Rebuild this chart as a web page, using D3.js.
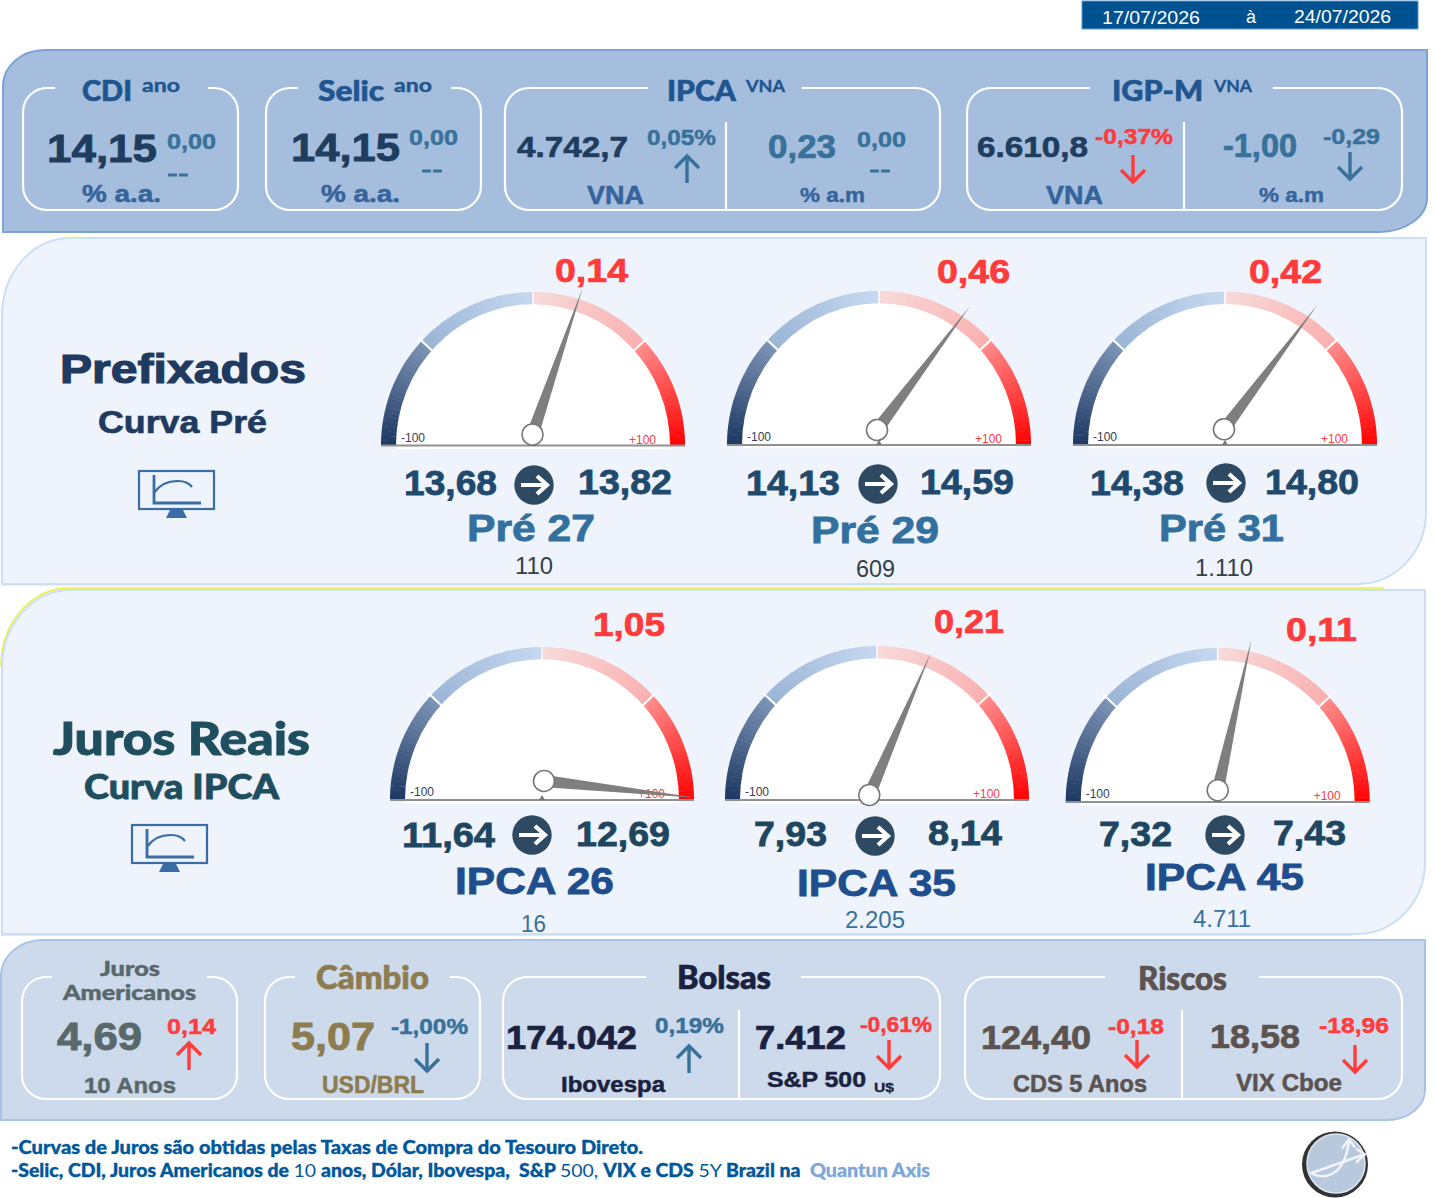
<!DOCTYPE html>
<html>
<head>
<meta charset="utf-8">
<title>Resumo semanal</title>
<style>
html, body {margin: 0; padding: 0; background: #ffffff; overflow: hidden;}
svg {display: block;}
</style>
</head>
<body>
<div id="chart"></div>
<script src="https://cdn.jsdelivr.net/npm/d3@7"></script>
<script>
// values
var dates = ["17/07/2026", "à", "24/07/2026"];

var topTitles = ["CDI", "Selic", "IPCA", "IGP-M"];
var topSup = ["ano", "ano", "VNA", "VNA"];
var topUnits = ["% a.a.", "% a.a.", "VNA", "% a.m", "VNA", "% a.m"];
var topValues = ["14,15", "14,15", "4.742,7", "0,23", "6.610,8", "-1,00"];
var topChanges = ["0,00", "0,00", "0,05%", "0,00", "-0,37%", "-0,29"];

var gaugeSections = ["Prefixados", "Curva Pré", "Juros Reais", "Curva IPCA"];
var gaugeNames = ["Pré 27", "Pré 29", "Pré 31", "IPCA 26", "IPCA 35", "IPCA 45"];
var gaugeChange = ["0,14", "0,46", "0,42", "1,05", "0,21", "0,11"];
var gaugeFrom = ["13,68", "14,13", "14,38", "11,64", "7,93", "7,32"];
var gaugeTo = ["13,82", "14,59", "14,80", "12,69", "8,14", "7,43"];
var gaugeDays = ["110", "609", "1.110", "16", "2.205", "4.711"];
var gaugeNeedle = [21, 41, 41, 107, 26, 14];   // position on the -100..+100 dial
var dialEnds = ["-100", "+100"];

var bottomTitles = ["Juros", "Americanos", "Câmbio", "Bolsas", "Riscos"];
var bottomNames = ["10 Anos", "USD/BRL", "Ibovespa", "S&P 500", "CDS 5 Anos", "VIX Cboe"];
var bottomValues = ["4,69", "5,07", "174.042", "7.412", "124,40", "18,58"];
var bottomChanges = ["0,14", "-1,00%", "0,19%", "-0,61%", "-0,18", "-18,96"];

var footer1 = "-Curvas de Juros são obtidas pelas Taxas de Compra do Tesouro Direto.";
var footer2 = [["-Selic, CDI, Juros Americanos de ", 1], ["10 ", 0], ["anos, Dólar, Ibovespa,  S&P ", 1], ["500, ", 0],
               ["VIX e CDS ", 1], ["5Y ", 0], ["Brazil na ", 1]];
var footerSource = "Quantun Axis";

var W = 1436, H = 1198;
var RED = "#ff3b3b", TEAL = "#38719a", NAVY = "#1f3d5f", MID = "#36649c", TITLE = "#1f5690";
var ARIAL = "'Liberation Sans', Arial, sans-serif", GEO = "Lato, 'Open Sans', sans-serif";

var svg = d3.select("#chart").append("svg").attr("width", W).attr("height", H);

// text squeezed into the width it has in the picture, thickened a bit when bold
function txt(str, x0, x1, base, size, color, o) {
    o = o || {};
    var weight = o.weight || 700;
    var sw = o.sw !== undefined ? o.sw : (weight >= 700 ? size * 0.022 : 0);
    return svg.append("text")
        .attr("x", x0).attr("y", base)
        .attr("textLength", x1 - x0).attr("lengthAdjust", "spacingAndGlyphs")
        .attr("font-family", o.font || ARIAL)
        .attr("font-weight", weight)
        .attr("font-size", size)
        .attr("fill", color)
        .attr("stroke", sw ? color : "none")
        .attr("stroke-width", sw)
        .style("white-space", "pre")
        .text(str);
}

function panel(x, y, w, h, r1x, r1y, r2x, r2y, fill, stroke) {
    var p = d3.path();
    // top-left and bottom-right corners are the only round ones
    p.moveTo(x + r1x, y);
    p.lineTo(x + w, y);
    p.lineTo(x + w, y + h - r2y);
    var c = 0.5523;
    p.bezierCurveTo(x + w, y + h - r2y + r2y * c, x + w - r2x + r2x * c, y + h, x + w - r2x, y + h);
    p.lineTo(x, y + h);
    p.lineTo(x, y + r1y);
    p.bezierCurveTo(x, y + r1y - r1y * c, x + r1x - r1x * c, y, x + r1x, y);
    p.closePath();
    svg.append("path").attr("d", p.toString()).attr("fill", fill).attr("stroke", stroke).attr("stroke-width", 2);
}

// white round box, open at the top where the title sits
function box(x0, x1, y0, y1, gap0, gap1, divider, dividerTop) {
    var r = 24, p = d3.path();
    p.moveTo(gap1, y0);
    p.lineTo(x1 - r, y0);
    p.arcTo(x1, y0, x1, y0 + r, r);
    p.lineTo(x1, y1 - r);
    p.arcTo(x1, y1, x1 - r, y1, r);
    p.lineTo(x0 + r, y1);
    p.arcTo(x0, y1, x0, y1 - r, r);
    p.lineTo(x0, y0 + r);
    p.arcTo(x0, y0, x0 + r, y0, r);
    p.lineTo(gap0, y0);
    if (divider) {
        p.moveTo(divider, dividerTop);
        p.lineTo(divider, y1);
    }
    svg.append("path").attr("d", p.toString()).attr("fill", "none").attr("stroke", "#ffffff").attr("stroke-width", 2.2);
}

function arrow(x, y0, y1, color) {
    // y0 is the tail, y1 the head
    var dir = y1 > y0 ? -1 : 1, p = d3.path();
    p.moveTo(x, y0);
    p.lineTo(x, y1);
    p.moveTo(x - 12, y1 + dir * 12);
    p.lineTo(x, y1);
    p.lineTo(x + 12, y1 + dir * 12);
    svg.append("path").attr("d", p.toString()).attr("fill", "none").attr("stroke", color)
        .attr("stroke-width", 3.4).attr("stroke-linejoin", "miter");
}

function dashes(x0, x1, y, color) {
    var mid = (x0 + x1) / 2;
    svg.append("rect").attr("x", x0).attr("y", y - 1.5).attr("width", mid - x0 - 1).attr("height", 3).attr("fill", color);
    svg.append("rect").attr("x", mid + 1).attr("y", y - 1.5).attr("width", x1 - mid - 1).attr("height", 3).attr("fill", color);
}

// ---- date bar
svg.append("rect").attr("x", 1082).attr("y", 1).attr("width", 336).attr("height", 28)
    .attr("fill", "#00518f").attr("stroke", "#5c9bd5").attr("stroke-width", 1);
txt(dates[0], 1102, 1200, 24, 19, "#ffffff", {weight: 400});
txt(dates[1], 1246, 1256, 23, 19, "#ffffff", {weight: 400});
txt(dates[2], 1294, 1391, 23, 19, "#ffffff", {weight: 400});

// ---- panels
panel(3, 50, 1424, 182, 42, 36, 48, 34, "#a6bedd", "#7ea2d3");
panel(2, 238, 1424, 346, 68, 78, 68, 72, "#eff3fb", "#cbdff5");
svg.append("line").attr("x1", 3).attr("x2", 1360).attr("y1", 585.5).attr("y2", 585.5).attr("stroke", "#fbfb9a").attr("stroke-width", 1);
svg.append("line").attr("x1", 64).attr("x2", 82).attr("y1", 237).attr("y2", 237).attr("stroke", "#f4f78c").attr("stroke-width", 1);
// yellow edge left over around the lower section
var edge = d3.path();
edge.moveTo(1, 666);
edge.bezierCurveTo(1, 623, 31, 588, 70, 588);
edge.lineTo(1384, 588);
svg.append("path").attr("d", edge.toString()).attr("fill", "none").attr("stroke", "#e9ef2e").attr("stroke-width", 1.5);
panel(2, 590, 1423, 344, 68, 78, 68, 72, "#eff3fb", "#cbdff5");
svg.append("rect").attr("x", 0).attr("y", 935).attr("width", 1352).attr("height", 1).attr("fill", "#ffff33");
panel(1, 940, 1424, 180, 42, 36, 38, 30, "#cddaeb", "#a8c3e3");

// ---- top row
box(23, 238, 88, 210, 55, 208);
box(266, 481, 88, 210, 298, 451);
box(505, 940, 88, 210, 648, 802, 726, 122);
box(967, 1402, 88, 210, 1090, 1273, 1184, 122);

txt(topTitles[0], 82, 132, 101, 29, TITLE, {font: GEO, weight: 900});
txt(topSup[0], 142, 180, 92, 19, TITLE, {font: GEO});
txt(topTitles[1], 318, 384, 101, 29, TITLE, {font: GEO, weight: 900});
txt(topSup[1], 394, 432, 92, 19, TITLE, {font: GEO});
txt(topTitles[2], 667, 736, 101, 29, TITLE, {font: GEO, weight: 900});
txt(topSup[2], 746, 785, 92, 17, TITLE, {font: GEO});
txt(topTitles[3], 1112, 1203, 101, 29, TITLE, {font: GEO, weight: 900});
txt(topSup[3], 1214, 1252, 92, 17, TITLE, {font: GEO});

txt(topValues[0], 47, 157, 162, 38, NAVY);
txt(topChanges[0], 167, 216, 149, 22, TEAL);
dashes(168, 188, 175, TEAL);
txt(topUnits[0], 82, 161, 202, 24, MID);

txt(topValues[1], 291, 400, 161, 38, NAVY);
txt(topChanges[1], 409, 458, 145, 22, TEAL);
dashes(422, 442, 171, TEAL);
txt(topUnits[1], 321, 400, 202, 24, MID);

txt(topValues[2], 517, 628, 157, 30, NAVY);
txt(topChanges[2], 647, 716, 145, 22, TEAL);
arrow(687, 183, 156, TEAL);
txt(topUnits[2], 587, 644, 204, 26, MID);

txt(topValues[3], 768, 836, 158, 33, TEAL);
txt(topChanges[3], 857, 906, 147, 22, TEAL);
dashes(870, 890, 171, TEAL);
txt(topUnits[3], 800, 865, 202, 20, MID);

txt(topValues[4], 977, 1088, 157, 30, NAVY);
txt(topChanges[4], 1095, 1173, 144, 22, RED);
arrow(1133, 155, 182, RED);
txt(topUnits[4], 1046, 1103, 204, 26, MID);

txt(topValues[5], 1223, 1297, 157, 33, TEAL);
txt(topChanges[5], 1323, 1380, 144, 22, TEAL);
arrow(1350, 152, 179, TEAL);
txt(topUnits[5], 1259, 1324, 202, 20, MID);

// ---- gauge sections
var sectionColor = ["#1f3a5f", "#1f3a5f", "#1f4e5f", "#1f4e5f"];
txt(gaugeSections[0], 60, 306, 383, 41, sectionColor[0], {sw: 1.2});
txt(gaugeSections[1], 98, 267, 433, 32, sectionColor[1], {sw: 0.7});
txt(gaugeSections[2], 53, 310, 755, 45, sectionColor[2], {font: GEO, weight: 900, sw: 0.9});
txt(gaugeSections[3], 84, 279, 798.5, 34, sectionColor[3], {font: GEO, weight: 900, sw: 0.8});

function monitor(x, y) {
    var g = svg.append("g").attr("transform", "translate(" + x + "," + y + ")").attr("fill", "none").attr("stroke", "#3a6ca6");
    g.append("rect").attr("x", 0).attr("y", 0).attr("width", 75).attr("height", 38).attr("stroke-width", 2.2);
    g.append("path").attr("d", "M15,4 V32 H62").attr("stroke-width", 2.8);
    g.append("path").attr("d", "M15,22 C21,13 31,10 39,10 C45,10 50,12 53,16").attr("stroke-width", 2.2);
    g.append("path").attr("d", "M31,39 H44 L48,47 H27 Z").attr("fill", "#3a6ca6").attr("stroke", "none");
}
monitor(139, 471);
monitor(132, 825);

// dial centre and hub per gauge, and where the labels go
var dials = [
    {cx: 533, base: 445.5, top: 292, hx: 532.5, hy: 434.5},
    {cx: 879, base: 445, top: 291, hx: 877, hy: 430},
    {cx: 1225, base: 445, top: 291.7, hx: 1224, hy: 429.3},
    {cx: 542, base: 800, top: 647, hx: 544, hy: 781},
    {cx: 877, base: 800, top: 646, hx: 869.3, hy: 795},
    {cx: 1217.7, base: 802, top: 648, hx: 1217.7, hy: 790.3}
];
var labels = [
    {ch: [555, 628, 282], from: [404, 497, 495], to: [578, 672, 494], circle: [534, 485], name: [467, 595, 541], days: [515, 553, 574]},
    {ch: [937, 1010, 283], from: [746, 840, 495], to: [920, 1014, 494], circle: [878, 484], name: [811, 939, 543], days: [856, 895, 577]},
    {ch: [1249, 1322, 283], from: [1090, 1184, 495], to: [1265, 1359, 494], circle: [1226, 483], name: [1159, 1284, 541], days: [1195, 1253, 576]},
    {ch: [593, 665, 636], from: [402, 495, 847], to: [576, 670, 846], circle: [532, 835], name: [455, 614, 894], days: [521, 546, 932]},
    {ch: [934, 1004, 633], from: [754, 827, 846], to: [928, 1002, 845], circle: [875, 836], name: [797, 956, 896], days: [845, 905, 928]},
    {ch: [1286, 1357, 641], from: [1099, 1172, 846], to: [1273, 1346, 845], circle: [1225, 835], name: [1145, 1304, 890], days: [1193, 1251, 927]}
];

var RO = 152, RI = 137, NEEDLE = 155, MARK = 52;
var angle = d3.scaleLinear().domain([-100, 100]).range([-Math.PI / 2, Math.PI / 2]);
var leftColor = d3.scaleLinear().domain([-100, -MARK, -MARK + 0.1, 0]).range(["#1c3761", "#7d95b6", "#9bb5d5", "#c6d9f1"]);
var rightColor = d3.scaleLinear().domain([0, MARK - 0.1, MARK, 100]).range(["#f7dada", "#fbb0b0", "#ff8e8e", "#ff0000"]);
var band = d3.arc().innerRadius(RI - 8).outerRadius(RO);
var steps = d3.range(-100, 100, 2);

dials.forEach(function(d, i) {
    var g = svg.append("g").attr("transform", "translate(" + d.cx + "," + d.base + ")");
    var sy = (d.base - d.top) / RO;
    g.selectAll(".seg").data(steps).enter().append("path")
        .attr("class", "seg")
        .attr("transform", "scale(1," + sy + ")")
        .attr("d", function(s) { return band({startAngle: angle(s), endAngle: angle(s + 2) + (s + 2 < 100 && s !== -2 ? 0.003 : 0)}); })
        .attr("fill", function(s) { return s < 0 ? leftColor(s + 1) : rightColor(s + 1); });
    // the face is taller than the band is round, so the band is thinner on top
    g.append("path")
        .attr("transform", "scale(1," + (sy * RO - 12.3) / RI + ")")
        .attr("d", d3.arc().innerRadius(0).outerRadius(RI)({startAngle: angle(-100), endAngle: angle(100)}))
        .attr("fill", "#ffffff");
    g.append("rect").attr("x", -RI).attr("y", 0).attr("width", 2 * RI).attr("height", 3.5).attr("fill", "#ffffff");
    // white marks on the band
    g.selectAll(".mark").data([-MARK, 0, MARK]).enter().append("line")
        .attr("x1", 0).attr("x2", 0)
        .attr("y1", function(s) { return s === 0 ? -RO - 3 : -RO - 5; })
        .attr("y2", function(s) { return s === 0 ? -RI : -RI + 2; })
        .attr("stroke", "#ffffff")
        .attr("stroke-width", function(s) { return s === 0 ? 1.4 : 2; })
        .attr("transform", function(s) { return "rotate(" + (angle(s) * 180 / Math.PI) + ")"; });
    g.append("line").attr("x1", -RO).attr("x2", RO).attr("y1", 0).attr("y2", 0).attr("stroke", "#909090").attr("stroke-width", 2);
    g.append("path").attr("d", "M-3,0 L0,-5 L3,0 Z").attr("fill", "#777777");

    txt(dialEnds[0], d.cx - 132, d.cx - 108, d.base - 4, 12.5, "#333f55", {weight: 400});
    txt(dialEnds[1], d.cx + 96, d.cx + 123, d.base - 2, 12.5, RED, {weight: 400});

    var needle = svg.append("g").attr("transform", "translate(" + d.hx + "," + d.hy + ") rotate(" + (angle(gaugeNeedle[i]) * 180 / Math.PI) + ")");
    needle.append("path").attr("d", "M-6,-6 L0," + (-NEEDLE) + " L6,-6 Z").attr("fill", "#7f7f7f");
    needle.append("circle").attr("r", 10.5).attr("fill", "#ffffff").attr("stroke", "#777777").attr("stroke-width", 1.6);

    var l = labels[i];
    var nameColor = i < 3 ? "#33709e" : "#1f4e8c";
    var numColor = i < 3 ? "#1f4a6e" : "#1f4660";
    txt(gaugeChange[i], l.ch[0], l.ch[1], l.ch[2], 33, RED);
    txt(gaugeFrom[i], l.from[0], l.from[1], l.from[2], 35, numColor);
    txt(gaugeTo[i], l.to[0], l.to[1], l.to[2], 35, numColor);
    txt(gaugeNames[i], l.name[0], l.name[1], l.name[2], 37, nameColor);
    txt(gaugeDays[i], l.days[0], l.days[1], l.days[2], 23, i < 3 ? "#333f4a" : "#38719a", {weight: 400});

    var c = svg.append("g").attr("transform", "translate(" + l.circle[0] + "," + l.circle[1] + ")");
    c.append("circle").attr("r", 19.7).attr("fill", "#2e4a62");
    c.append("path").attr("d", "M-13,0 H12 M3,-9 L13,0 L3,9").attr("fill", "none").attr("stroke", "#ffffff").attr("stroke-width", 4.2);
});

// ---- bottom row
box(22, 237, 977, 1099, 52, 207);
box(265, 480, 977, 1099, 295, 450);
box(503, 940, 977, 1099, 646, 801, 739, 1010);
box(965, 1402, 977, 1099, 1105, 1259, 1182, 1010);

var GREY = "#59686b", GOLD = "#8d7c50", INK = "#1b2140", STONE = "#5c5350";

txt(bottomTitles[0], 100, 160, 975.5, 20, GREY, {font: GEO, weight: 900});
txt(bottomTitles[1], 63, 196, 1000, 20, GREY, {font: GEO, weight: 900});
txt(bottomValues[0], 57, 142, 1050, 38, GREY);
txt(bottomChanges[0], 167, 216, 1034, 22, RED);
arrow(189, 1070, 1043, RED);
txt(bottomNames[0], 84, 176, 1093, 22, GREY);

txt(bottomTitles[2], 316, 429, 989, 32, GOLD, {font: GEO, weight: 900});
txt(bottomValues[1], 291, 375, 1050, 38, GOLD);
txt(bottomChanges[1], 391, 468, 1034, 22, TEAL);
arrow(427, 1043, 1071, TEAL);
txt(bottomNames[1], 322, 424, 1093, 23, GOLD);

txt(bottomTitles[3], 677, 771, 989, 32, INK, {font: GEO, weight: 900});
txt(bottomValues[2], 506, 637, 1049, 33, INK);
txt(bottomChanges[2], 655, 724, 1033, 22, TEAL);
arrow(689, 1073, 1046, TEAL);
txt(bottomNames[2], 561, 665, 1092, 22, INK);

txt(bottomValues[3], 755, 846, 1049, 33, INK);
txt(bottomChanges[3], 860, 932, 1032, 22, RED);
arrow(889, 1040, 1068, RED);
txt(bottomNames[3], 767, 866, 1087, 22, INK);
txt("U$", 874, 894, 1092, 12, INK);

txt(bottomTitles[4], 1138, 1227, 990, 32, STONE, {font: GEO, weight: 900});
txt(bottomValues[4], 981, 1091, 1049, 34, STONE);
txt(bottomChanges[4], 1108, 1164, 1034, 22, RED);
arrow(1137, 1040, 1067, RED);
txt(bottomNames[4], 1013, 1147, 1092, 24, STONE);

txt(bottomValues[5], 1210, 1300, 1048, 34, STONE);
txt(bottomChanges[5], 1319, 1389, 1033, 22, RED);
arrow(1355, 1045, 1072, RED);
txt(bottomNames[5], 1236, 1342, 1091, 24, STONE);

// ---- footer
txt(footer1, 11, 643, 1154, 18, "#00579c", {font: GEO, weight: 900, sw: 0.35});
var f2 = svg.append("text").attr("x", 11).attr("y", 1177)
    .attr("textLength", 794).attr("lengthAdjust", "spacingAndGlyphs")
    .attr("font-family", GEO).attr("font-size", 18).attr("fill", "#00579c")
    .style("white-space", "pre");
f2.selectAll("tspan").data(footer2).enter().append("tspan")
    .attr("font-weight", function(d) { return d[1] ? 900 : 400; })
    .attr("stroke", function(d) { return d[1] ? "#00579c" : "none"; })
    .attr("stroke-width", 0.35)
    .text(function(d) { return d[0]; });
txt(footerSource, 810, 930, 1177, 18, "#7da7d8", {font: GEO, weight: 900, sw: 0.3});

// ---- logo
var logo = svg.append("g").attr("transform", "translate(1336,1163.5)");
logo.append("ellipse").attr("cx", -1).attr("cy", 1).attr("rx", 33).attr("ry", 33).attr("fill", "#333333");
logo.append("ellipse").attr("rx", 29).attr("ry", 29.5).attr("fill", "#b9c9dd").attr("stroke", "#dbe7f3").attr("stroke-width", 1.5);
logo.append("path").attr("d", "M-26,9 C-12,17 8,14 13,-22 M-26,10 L28,-9 M6,-15 L13,-24 L19,-16 M20,-15 L29,-9 L20,-1")
    .attr("fill", "none").attr("stroke", "#f2f5fa").attr("stroke-width", 2.4);
</script>
</body>
</html>
